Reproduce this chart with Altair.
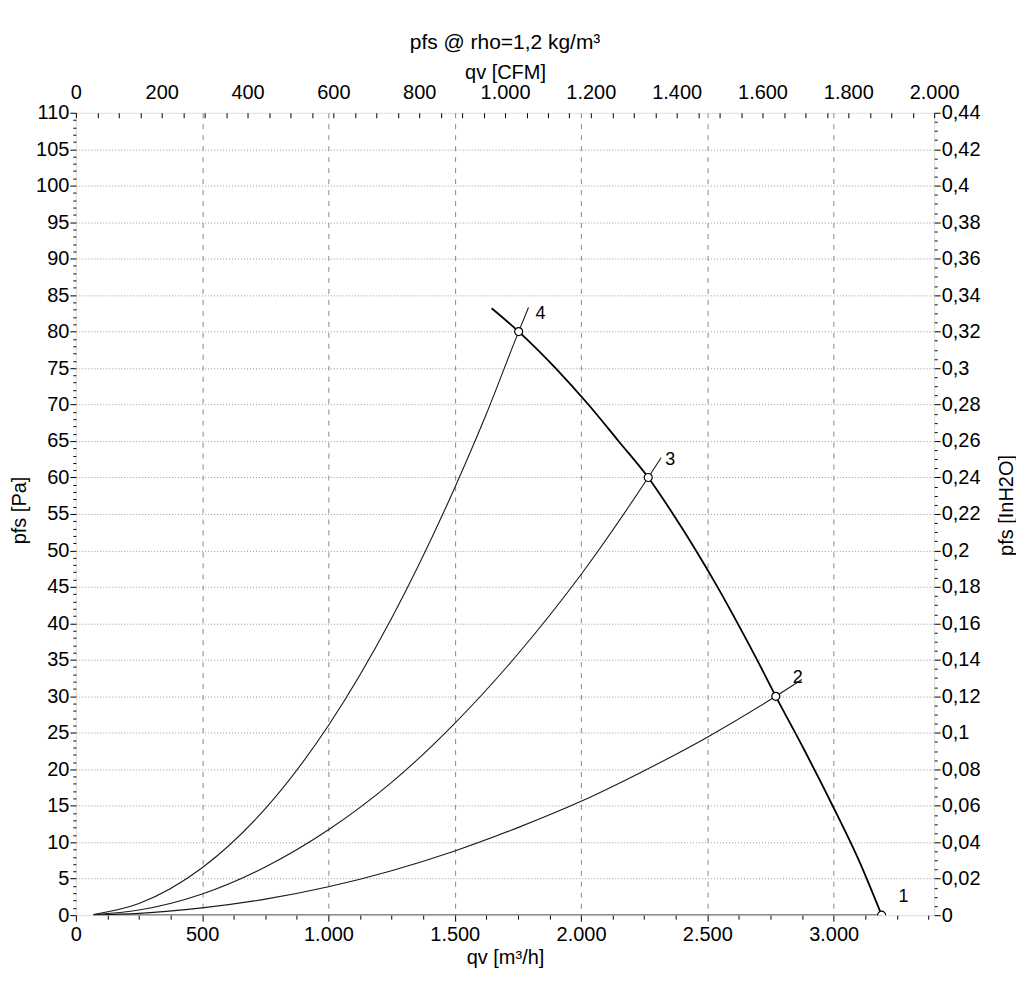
import altair as alt
import pandas as pd

# ---- data ----
fan_q = [1646, 1753, 1899, 2029, 2148, 2266, 2364, 2455, 2540, 2620, 2697, 2771, 2886, 2996, 3100, 3190]
fan_p = [83.2, 80, 75, 70, 65, 60, 55, 50, 45, 40, 35, 30, 22.5, 15, 7.5, 0]

sys4_q = [70, 250, 500, 750, 1000, 1250, 1500, 1625, 1753, 1792]
sys4_p = [0.1, 1.6, 6.5, 14.6, 26.0, 40.7, 58.6, 68.7, 80.0, 83.3]

sys3_q = [70, 250, 500, 750, 1000, 1250, 1500, 1750, 2000, 2266, 2317]
sys3_p = [0.06, 0.7, 2.9, 6.6, 11.7, 18.2, 26.3, 35.8, 46.7, 60.0, 62.7]

sys2_q = [70, 250, 500, 750, 1000, 1250, 1500, 1750, 2000, 2250, 2500, 2771, 2874]
sys2_p = [0.02, 0.24, 1.0, 2.2, 3.9, 6.1, 8.8, 12.0, 15.6, 19.8, 24.4, 30.0, 32.3]

sys1_q = [70, 3190]
sys1_p = [0, 0]

op_q = [3190, 2771, 2266, 1753]
op_p = [0, 30, 60, 80]
op_label = ["1", "2", "3", "4"]

x_ticks = list(range(0, 3376, 125))
y_ticks = list(range(0, 111, 1))
cfm_ticks = list(range(0, 2001, 50))
inh2o_ticks = [round(i * 0.005, 3) for i in range(89)]

FONT = "Liberation Sans"
LBL = 20
TTL = 20

sys_rows = []
for name, qs, ps in [("1", sys1_q, sys1_p), ("2", sys2_q, sys2_p), ("3", sys3_q, sys3_p), ("4", sys4_q, sys4_p)]:
    for q, p in zip(qs, ps):
        sys_rows.append({"q": q, "p": p, "curve": name})
sys_df = pd.DataFrame(sys_rows)
fan_df = pd.DataFrame({"q": fan_q, "p": fan_p})
op_df = pd.DataFrame({"q": op_q, "p": op_p, "label": op_label})

x_axis = alt.Axis(
    orient="bottom", values=x_ticks, title="qv [m³/h]",
    labelExpr="datum.value % 500 === 0 ? replace(format(datum.value, ','), ',', '.') : ''",
    tickSize={"condition": {"test": "datum.value % 500 === 0", "value": 6}, "value": 4},
    grid=True, gridColor="#888888", gridDash=[5, 6], gridWidth=1,
    gridOpacity={"condition": {"test": "datum.value % 500 === 0 && datum.value > 0", "value": 1}, "value": 0},
    domain=False, tickColor="black", labelColor="black", labelFontSize=LBL, labelFont=FONT,
    labelPadding=3, labelOverlap=False, labelFlush=False,
    titleFont=FONT, titleFontSize=TTL, titleFontWeight="normal", titleColor="black",
    titleY=42, titleBaseline="middle",
)
y_axis = alt.Axis(
    orient="left", values=y_ticks, title="pfs [Pa]",
    labelExpr="datum.value % 5 === 0 ? datum.label : ''",
    tickSize={"condition": {"test": "datum.value % 5 === 0", "value": 6}, "value": 3},
    grid=True, gridColor="#999999", gridDash=[1, 2], gridWidth=1,
    gridOpacity={"condition": {"test": "datum.value % 5 === 0 && datum.value > 0 && datum.value < 110", "value": 1}, "value": 0},
    domain=False, tickColor="black", labelColor="black", labelFontSize=LBL, labelFont=FONT,
    labelPadding=1, labelOverlap=False, labelFlush=False,
    titleFont=FONT, titleFontSize=TTL, titleFontWeight="normal", titleColor="black",
    titleX=-56, titleY=398, titleAngle=270, titleAlign="center", titleBaseline="middle",
)

X = alt.X("q:Q", scale=alt.Scale(domain=[0, 3398], nice=False, zero=False), axis=x_axis)
Y = alt.Y("p:Q", scale=alt.Scale(domain=[0, 110], nice=False), axis=y_axis)

sys_lines = alt.Chart(sys_df).mark_line(color="#1a1a1a", strokeWidth=1.1, interpolate="monotone", clip=True).encode(
    x=X, y=Y, detail="curve:N"
)
fan_line = alt.Chart(fan_df).mark_line(color="black", strokeWidth=1.8, interpolate="monotone", clip=True).encode(x=X, y=Y)
points = alt.Chart(op_df).mark_point(shape="circle", filled=True, fill="white", stroke="black",
                                     strokeWidth=1.2, size=64, opacity=1, clip=True).encode(x=X, y=Y)
labels = alt.Chart(op_df).mark_text(dx=22, dy=-18, fontSize=18, font=FONT, color="black").encode(
    x=X, y=Y, text="label:N"
)
main = alt.layer(sys_lines, fan_line, points, labels)

top_axis = alt.Axis(
    orient="top", values=cfm_ticks, title="qv [CFM]",
    labelExpr="datum.value % 200 === 0 ? replace(format(datum.value, ','), ',', '.') : ''",
    tickSize=alt.ExprRef("-5"), labelPadding=15,
    grid=False, domain=False, tickColor="black", labelColor="black", labelFontSize=LBL, labelFont=FONT,
    labelOverlap=False, labelFlush=False,
    titleFont=FONT, titleFontSize=TTL, titleFontWeight="normal", titleColor="black",
    titleY=-40, titleBaseline="middle",
)
top_layer = alt.Chart(pd.DataFrame({"cfm": [0, 2000]})).mark_rule(opacity=0).encode(
    x=alt.X("cfm:Q", scale=alt.Scale(domain=[0, 2000], nice=False), axis=top_axis)
)

right_axis = alt.Axis(
    orient="right", values=inh2o_ticks, title="pfs [InH2O]",
    labelExpr="round(datum.value * 1000) % 20 === 0 ? replace(format(datum.value, '.2~f'), '.', ',') : ''",
    tickSize={"condition": {"test": "round(datum.value * 1000) % 20 === 0", "value": 6}, "value": 3},
    grid=False, domain=False, tickColor="black", labelColor="black", labelFontSize=LBL, labelFont=FONT,
    labelPadding=1, labelOverlap=False, labelFlush=False,
    titleFont=FONT, titleFontSize=TTL, titleFontWeight="normal", titleColor="black",
    titleX=72, titleY=393, titleAngle=270, titleAlign="center", titleBaseline="middle",
)
right_layer = alt.Chart(pd.DataFrame({"inh2o": [0, 0.44]})).mark_rule(opacity=0).encode(
    y=alt.Y("inh2o:Q", scale=alt.Scale(domain=[0, 0.44], nice=False), axis=right_axis)
)

chart = alt.layer(main, top_layer, right_layer).resolve_scale(
    x="independent", y="independent"
).properties(
    width=860, height=804,
    title=alt.TitleParams("pfs @ rho=1,2 kg/m³", font=FONT, fontSize=21, fontWeight="normal",
                          color="black", anchor="middle", offset=10),
    autosize=alt.AutoSizeParams(type="none"),
    padding={"left": 68, "top": 104, "right": 82, "bottom": 60},
).configure_view(stroke="black", strokeWidth=2).configure(background="white")

chart.save("out.html", embed_options={"renderer": "svg", "actions": False})
